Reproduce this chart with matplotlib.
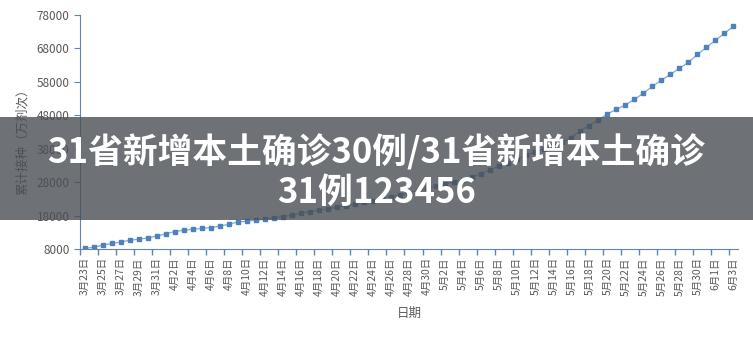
import matplotlib
matplotlib.use("Agg")
import matplotlib.pyplot as plt
import pandas as pd
from matplotlib.patches import Rectangle
from matplotlib.ticker import FixedLocator

plt.rcParams['font.family'] = ['Noto Sans CJK SC', 'DejaVu Sans']

# daily categories 3/23 .. 6/3
dates = pd.date_range("2021-03-23", "2021-06-03", freq="D")
date_labels = [f"{d.month}月{d.day}日" for d in dates]

# cumulative doses (万剂次)
doses = [8150, 8510, 9110, 9650, 10090, 10600, 10930, 11290, 11890, 12490,
         13230, 13590, 13890, 14140, 14430, 14820, 15390, 16080, 16310, 16610,
         16880, 17270, 17660, 18170, 18680, 19160, 19580, 20050, 20470, 20950,
         21460, 21970, 22450, 23020, 23610, 24210, 24840, 25470, 26100, 26750,
         27410, 28070, 28730, 29420, 30580, 31690, 32770, 33840, 34920, 36000,
         37070, 38030, 38810, 39910, 41320, 43440, 44880, 46580, 48380, 49790,
         51070, 52780, 54570, 56660, 58460, 60250, 62050, 63840, 66230, 68330,
         70420, 72520, 74610]

y_ticks = list(range(8000, 78001, 10000))
title_lines = ["31省新增本土确诊30例/31省新增本土确诊", "31例123456"]

axis_col = "#5f84ad"
text_col = "#595959"

fig = plt.figure(figsize=(7.53, 3.38), dpi=100)
ax = fig.add_axes([80 / 753, 89 / 338, 658 / 753, 234 / 338])

x = list(range(len(doses)))
ax.plot(x, doses, color="#7eaad8", lw=0.9, marker="s", markersize=2.4,
        markerfacecolor="#4f81bd", markeredgecolor="#4f81bd")

ax.set_xlim(-0.5, len(doses) - 0.5)
ax.set_ylim(y_ticks[0], y_ticks[-1])
ax.set_yticks(y_ticks)
ax.set_yticklabels([str(v) for v in y_ticks])

ax.set_xticks(x[::2])
ax.set_xticklabels(date_labels[::2], rotation=90)
ax.xaxis.set_minor_locator(FixedLocator([i - 0.5 for i in range(0, len(doses), 2)]))
ax.tick_params(axis="x", which="major", length=0, pad=6, labelsize=7.5, colors=text_col)
ax.tick_params(axis="x", which="minor", length=4, color=axis_col, width=1)
ax.tick_params(axis="y", length=4, color=axis_col, labelsize=8.5, labelcolor=text_col)

for s in ["top", "right"]:
    ax.spines[s].set_visible(False)
for s in ["left", "bottom"]:
    ax.spines[s].set_color(axis_col)

ax.set_xlabel("日期", fontsize=9, color=text_col, labelpad=8)
ax.set_ylabel("累计接种（万剂次）", fontsize=9, color=text_col)
ax.yaxis.set_label_coords(-0.078, 0.47)

# grey caption banner across the middle
fig.patches.append(Rectangle((0, 118 / 338), 1, 103 / 338, transform=fig.transFigure,
                             facecolor="#4a4f54", alpha=0.8, zorder=5))
fig.text(0.5, 0.548, title_lines[0], ha="center", va="center", color="white",
         fontsize=25, fontweight="black", zorder=6)
fig.text(0.5, 0.43, title_lines[1], ha="center", va="center", color="white",
         fontsize=25, fontweight="black", zorder=6)

fig.savefig("out.png", dpi=100)
